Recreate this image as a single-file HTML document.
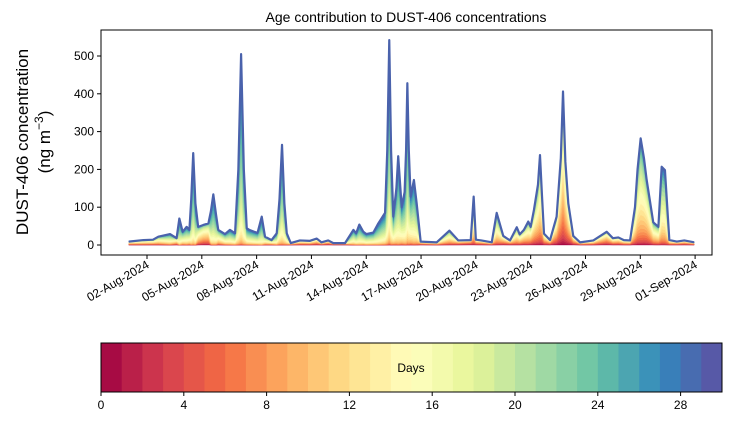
<!DOCTYPE html>
<html><head><meta charset="utf-8"><style>
body{margin:0;background:#fff;font-family:"Liberation Sans",sans-serif}
svg text{font-family:"Liberation Sans",sans-serif}
</style></head><body>
<svg id="c" width="730" height="425" xmlns="http://www.w3.org/2000/svg"></svg>
<script>
const days=[1.0,1.8,2.33,2.62,3.26,3.62,3.77,3.95,4.17,4.32,4.42,4.53,4.65,4.8,5.08,5.36,5.5,5.63,5.78,5.9,6.27,6.54,6.82,7.0,7.15,7.3,7.46,7.6,7.87,8.05,8.28,8.46,8.82,9.1,9.25,9.39,9.52,9.65,9.87,10.37,10.92,11.29,11.55,11.92,12.2,12.84,13.3,13.45,13.62,13.84,14.0,14.39,14.66,15.03,15.15,15.26,15.36,15.48,15.65,15.75,15.94,16.1,16.18,16.25,16.33,16.43,16.61,16.76,16.98,17.86,18.55,19.04,19.72,19.88,20.0,20.3,20.87,21.14,21.5,21.87,22.24,22.4,22.63,22.87,23.0,23.18,23.4,23.51,23.62,23.73,24.06,24.42,24.65,24.77,24.9,25.06,25.33,25.7,26.43,27.16,27.5,27.8,28.1,28.44,28.71,28.85,29.02,29.2,29.35,29.71,29.99,30.17,30.35,30.59,31.0,31.41,31.95];
const totals=[9,13,14,22,29,18,70,35,48,40,120,243,110,48,53,57,90,134,80,40,29,40,31,200,505,200,44,40,35,32,75,22,13,31,120,265,110,31,5,12,11,17,7,12,5,5,40,31,54,35,29,33,57,85,250,542,250,75,150,235,100,140,250,428,250,128,172,110,9,7,38,12,13,128,14,12,7,85,24,12,47,28,40,62,48,93,160,238,130,30,13,75,230,406,220,110,24,7,12,35,18,20,13,12,100,200,282,230,172,60,48,207,198,13,9,12,7];
const meanAge=[10,12,12,14,18,12,24,18,20,18,24,25,24,14,12,12,22,24,22,16,18,20,20,24,25,24,20,20,20,20,24,16,14,20,22,24,22,18,8,10,10,10,8,8,6,6,20,20,22,20,20,20,22,22,24,24,24,20,22,24,20,22,24,24,23,20,22,20,8,10,14,8,6,16,8,8,8,16,10,8,14,12,12,14,12,13,14,15,13,10,8,11,12,13,12,11,9,8,10,10,10,10,10,10,14,15,16,15,14,14,14,18,18,10,8,8,8];
const cbTicks=[0,4,8,12,16,20,24,28];
const xTickDays=[2,5,8,11,14,17,20,23,26,29,32];
const xTickLabels=["02-Aug-2024","05-Aug-2024","08-Aug-2024","11-Aug-2024","14-Aug-2024","17-Aug-2024","20-Aug-2024","23-Aug-2024","26-Aug-2024","29-Aug-2024","01-Sep-2024"];
const yTicks=[0,100,200,300,400,500];
const NL=30;
const svg=document.getElementById('c');
const NS="http://www.w3.org/2000/svg";
function mk(t,a,p){const e=document.createElementNS(NS,t);for(const k in a)e.setAttribute(k,a[k]);(p||svg).appendChild(e);return e;}
const PL=101,PR=712,PT=30,PB=255;
const X=d=>147+(d-2)*18.27;
const Y=v=>245-v*0.378;
const anchors=["#9e0142","#d53e4f","#f46d43","#fdae61","#fee08b","#ffffbf","#e6f598","#abdda4","#66c2a5","#3288bd","#5e4fa2"];
function hex(h){return [1,3,5].map(i=>parseInt(h.substr(i,2),16));}
function spectral(t){const p=t*10,i=Math.min(9,Math.floor(p)),f=p-i;const a=hex(anchors[i]),b=hex(anchors[i+1]);return "rgb("+a.map((v,j)=>Math.round(v+(b[j]-v)*f)).join(",")+")";}
const n=Math.min(days.length,totals.length,meanAge.length);
const cum=new Array(n).fill(0);
const layers=mk('g',{});


const weights=[];
for(let i=0;i<n;i++){let w=[];let s=0;for(let k=0;k<NL;k++){const x=Math.exp(-Math.pow((k+0.5-meanAge[i])/10,2));w.push(x);s+=x;}weights.push(w.map(x=>x/s));}
function pts(arr){let s="";for(let i=0;i<n;i++)s+=(i?"L":"M")+X(days[i]).toFixed(2)+","+Y(arr[i]).toFixed(2);return s;}
for(let k=0;k<NL;k++){
  const lo=cum.slice();
  for(let i=0;i<n;i++)cum[i]+=totals[i]*weights[i][k];
  let d=pts(cum);
  for(let i=n-1;i>=0;i--)d+="L"+X(days[i]).toFixed(2)+","+Y(lo[i]).toFixed(2);
  const col=spectral((k+0.5)/NL);
  const p=mk('path',{d:d+"Z",fill:col,stroke:col,'stroke-width':0.4},layers);
  
  
}
const totalLine=mk('path',{d:pts(totals),fill:"none",stroke:"#4a62ac","stroke-width":2.2,"stroke-linejoin":"round"});


const plotFrame=mk('rect',{x:PL,y:PT,width:PR-PL,height:PB-PT,fill:"none",stroke:"#000","stroke-width":1});


yTicks.forEach(v=>{
  mk('line',{x1:PL-4,x2:PL,y1:Y(v),y2:Y(v),stroke:"#000"});
  const t=mk('text',{x:PL-7,y:Y(v)+4,'text-anchor':'end','font-size':12});t.textContent=v;
  
  
});
xTickDays.forEach((d,i)=>{
  const x=X(d);
  mk('line',{x1:x,x2:x,y1:PB,y2:PB+4,stroke:"#000"});
  const t=mk('text',{transform:`translate(${x+3},${PB+12}) rotate(-30)`,'text-anchor':'end','font-size':12});t.textContent=xTickLabels[i];
  
  
});
const chartTitle=mk('text',{x:406,y:22,'text-anchor':'middle','font-size':14});chartTitle.textContent="Age contribution to DUST-406 concentrations";


const yl=mk('text',{transform:"translate(28,142) rotate(-90)",'text-anchor':'middle','font-size':17});


const t1=mk('tspan',{x:0,dy:0},yl);t1.textContent="DUST-406 concentration";
const t2=mk('tspan',{x:0,dy:22},yl);t2.textContent="(ng m";
const t3=mk('tspan',{dy:-7,'font-size':12},yl);t3.textContent="−3";
const t4=mk('tspan',{dy:7},yl);t4.textContent=")";
const cbar=mk('g',{});


const CL=101,CR=722,CT=343,CBt=392,cw=(CR-CL)/NL;
for(let k=0;k<NL;k++){mk('rect',{x:CL+k*cw,y:CT,width:cw+0.5,height:CBt-CT,fill:spectral((k+0.5)/NL)},cbar);}
mk('rect',{x:CL,y:CT,width:CR-CL,height:CBt-CT,fill:"none",stroke:"#000"},cbar);
cbTicks.forEach(v=>{const x=CL+v*cw;mk('line',{x1:x,x2:x,y1:CBt,y2:CBt+4,stroke:"#000"},cbar);
  const t=mk('text',{x:x,y:CBt+17,'text-anchor':'middle','font-size':12},cbar);t.textContent=v;
  
  });
const dl=mk('text',{x:411,y:372,'text-anchor':'middle','font-size':12},cbar);dl.textContent="Days";


</script>
</body></html>
